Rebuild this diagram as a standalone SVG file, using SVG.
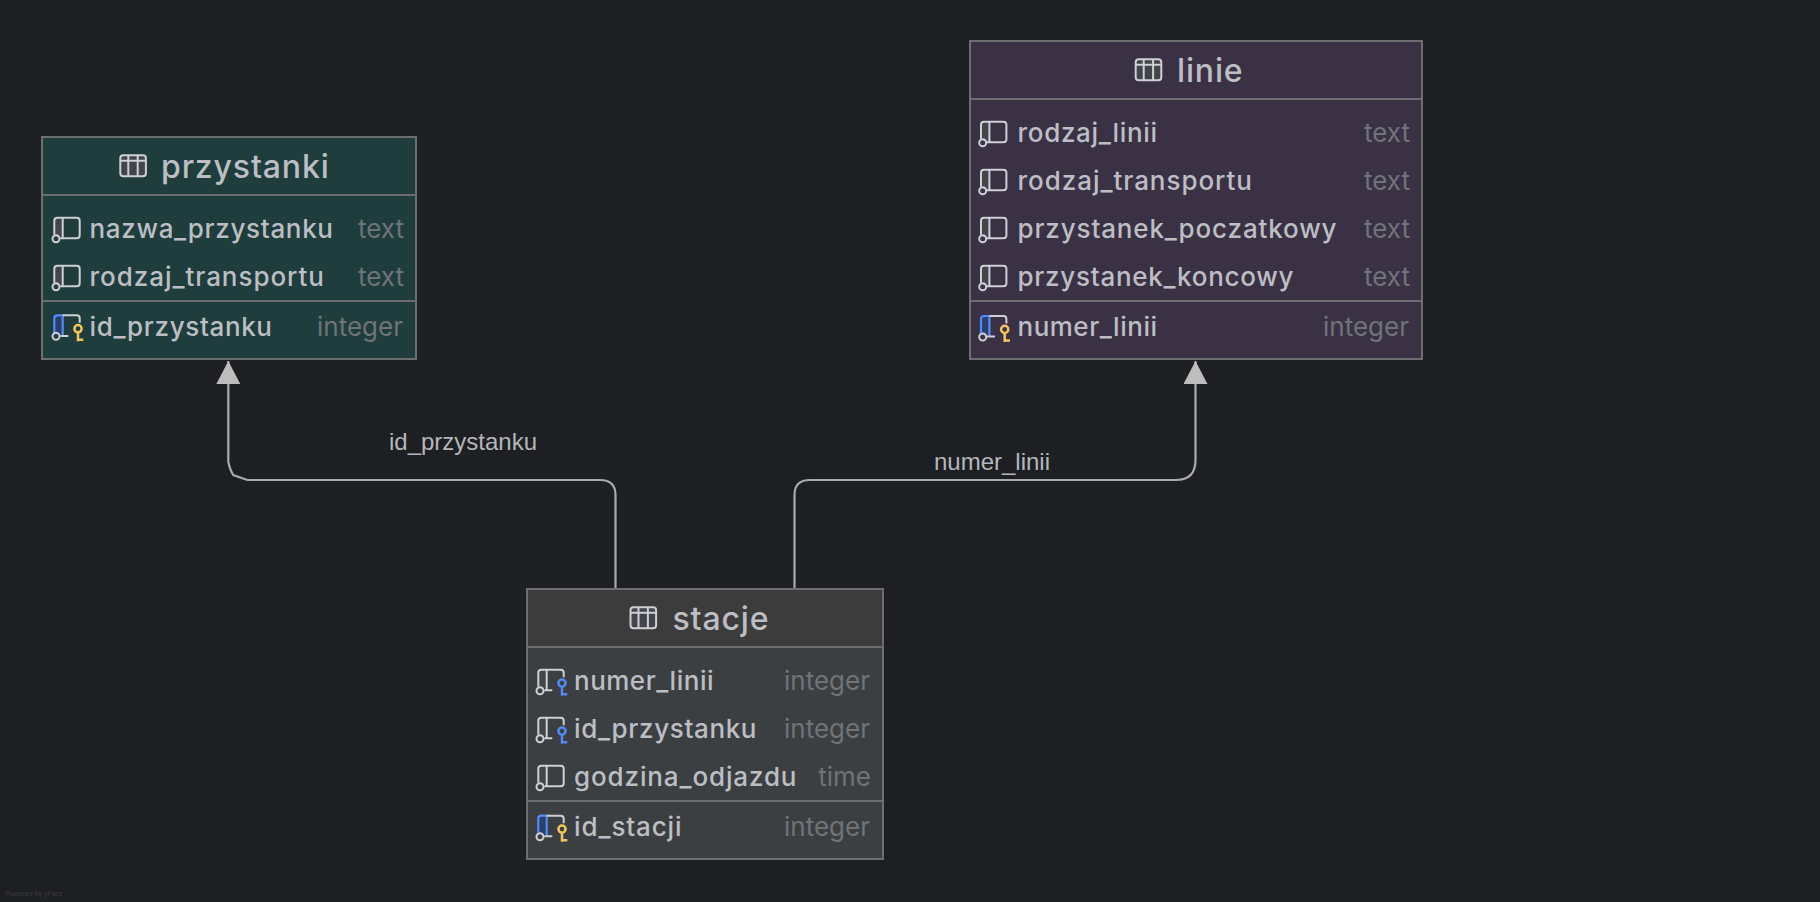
<svg xmlns="http://www.w3.org/2000/svg" width="1820" height="902" viewBox="0 0 1820 902">
<style>
.box{stroke:#6c6e70;stroke-width:2}
.sep{stroke:#6c6e70;stroke-width:2;fill:none}
.title{font:500 32px Inter,"Liberation Sans",sans-serif;fill:#bcbec4;letter-spacing:.85px}
.col{font:500 26px Inter,"Liberation Sans",sans-serif;fill:#bcbec4}
.type{font:400 26px Inter,"Liberation Sans",sans-serif;fill:#6f737a;text-anchor:end}
.lbl{font:24px "Liberation Sans",Arial,sans-serif;fill:#b4b6bc;text-anchor:middle}
.edge{fill:none;stroke:#a8aaac;stroke-width:2.200}
.i{fill:none;stroke:#ced0d6;stroke-width:2}
</style>
<defs>
<marker id="arr" markerUnits="userSpaceOnUse" markerWidth="26" markerHeight="24" refX="23" refY="12" orient="auto"><path d="M0 0L23 12L0 24z" fill="#bdbdbd"/></marker>
<g id="tbl"><rect x="1" y="1" width="25.600" height="21" rx="3" fill="#43454a" stroke="#ced0d6" stroke-width="2"/><path d="M1 6.400H26.600M9 1V22M18.400 1V22" fill="none" stroke="#ced0d6" stroke-width="2"/></g>
<g id="c"><path d="M0 0H8.400V20H0z" fill="#43454a"/><path class="i" d="M0 17V3Q0 0 3 0H22.400Q25.400 0 25.400 3V17.600Q25.400 20.600 22.400 20.600H6M8.400 0V20.600"/><circle class="i" cx="1.700" cy="21" r="3.500" fill="#43454a"/></g>
<g id="cf"><path d="M0 0H8.400V20H0z" fill="#43454a"/><path class="i" d="M0 17V3Q0 0 3 0H22.400Q25.400 0 25.400 3V7.500M14 20.600H6M8.400 0V20.600"/><circle class="i" cx="1.700" cy="21" r="3.500" fill="#43454a"/><g fill="none" stroke="#548af7" stroke-width="2.500"><circle cx="23.700" cy="13.400" r="3.600"/><path d="M23.700 17V26M23.700 24.500H29"/></g></g>
<g id="cp"><path d="M0 0H8.400V20H0z" fill="#2b3f6b"/><path d="M0 17V3Q0 0 3 0H8.400V20" fill="none" stroke="#548af7" stroke-width="2.200"/><path class="i" d="M8.400 0H22.400Q25.400 0 25.400 3V7.500M14 20.600H6"/><circle class="i" cx="1.700" cy="21" r="3.500" fill="#43454a"/><g fill="none" stroke="#f2c55c" stroke-width="2.500"><circle cx="23.700" cy="13.400" r="3.600"/><path d="M23.700 17V26M23.700 24.500H29"/></g></g>
</defs>
<rect width="1820" height="902" fill="#1e1f22"/>
<g id="connectors">
<path class="edge" marker-end="url(#arr)" d="M615.500 588V495Q615.500 480 600 480H247.300L233.300 475Q230 470 228.300 461.700V361"/>
<path class="edge" marker-end="url(#arr)" d="M794.500 588V495Q794.500 480 810 480H1176Q1195.500 480 1195.500 460V361"/>
<text class="lbl" x="463" y="450">id_przystanku</text>
<text class="lbl" x="992" y="470">numer_linii</text>
</g>
<g id="przystanki">
<rect class="box" x="42" y="137" width="374" height="222" fill="#1e3d3c"/>
<path class="sep" d="M42 195H416M42 301H416"/>
<use href="#tbl" x="119.300" y="154.300"/>
<text class="title" x="161" y="178">przystanki</text>
<use href="#c" x="54.300" y="217.700"/><text class="col" x="89.500" y="238" textLength="243.500">nazwa_przystanku</text><text class="type" x="404" y="238">text</text>
<use href="#c" x="54.300" y="265.700"/><text class="col" x="89.500" y="286" textLength="234.500">rodzaj_transportu</text><text class="type" x="404" y="286">text</text>
<use href="#cp" x="54.300" y="315.300"/><text class="col" x="89.500" y="336" textLength="182.500">id_przystanku</text><text class="type" x="403" y="336">integer</text>
</g>
<g id="linie">
<rect class="box" x="970" y="41" width="452" height="318" fill="#3b3145"/>
<path class="sep" d="M970 99H1422M970 301H1422"/>
<use href="#tbl" x="1134.700" y="58.300"/>
<text class="title" x="1177" y="82">linie</text>
<use href="#c" x="981" y="121.700"/><text class="col" x="1017.500" y="142" textLength="139.500">rodzaj_linii</text><text class="type" x="1410" y="142">text</text>
<use href="#c" x="981" y="169.700"/><text class="col" x="1017.500" y="190" textLength="234.500">rodzaj_transportu</text><text class="type" x="1410" y="190">text</text>
<use href="#c" x="981" y="217.700"/><text class="col" x="1017.500" y="238" textLength="319">przystanek_poczatkowy</text><text class="type" x="1410" y="238">text</text>
<use href="#c" x="981" y="265.700"/><text class="col" x="1017.500" y="286" textLength="276">przystanek_koncowy</text><text class="type" x="1410" y="286">text</text>
<use href="#cp" x="981" y="316"/><text class="col" x="1017.500" y="336" textLength="139.500">numer_linii</text><text class="type" x="1409" y="336">integer</text>
</g>
<g id="stacje">
<rect class="box" x="527" y="589" width="356" height="270" fill="#3c3f41"/>
<path d="M528 590H882V647H528z" fill="#3c3c3c"/>
<path class="sep" d="M527 647H883M527 801H883"/>
<use href="#tbl" x="629.500" y="606.300"/>
<text class="title" x="672.500" y="630">stacje</text>
<use href="#cf" x="538.300" y="669.700"/><text class="col" x="574" y="690" textLength="139.500">numer_linii</text><text class="type" x="870" y="690">integer</text>
<use href="#cf" x="538.300" y="717.700"/><text class="col" x="574" y="738" textLength="182.500">id_przystanku</text><text class="type" x="870" y="738">integer</text>
<use href="#c" x="538.300" y="765.700"/><text class="col" x="574" y="786" textLength="222.500">godzina_odjazdu</text><text class="type" x="871" y="786">time</text>
<use href="#cp" x="538.300" y="815.700"/><text class="col" x="574" y="836" textLength="107.500">id_stacji</text><text class="type" x="870" y="836">integer</text>
</g>
<text x="5" y="896" font-family="Liberation Sans, sans-serif" font-size="7" fill="#3a3b3e">Powered by yFiles</text>
</svg>
